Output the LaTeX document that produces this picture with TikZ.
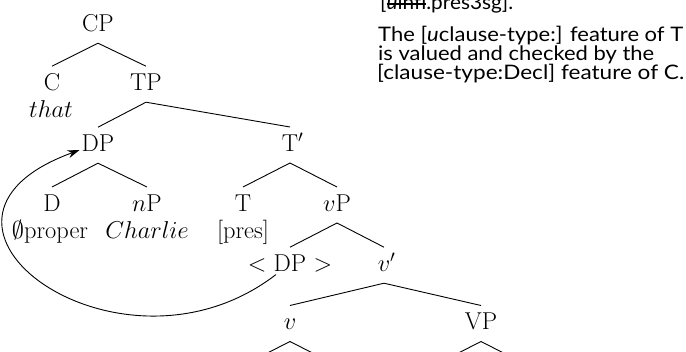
\documentclass[tikz,border=0pt]{standalone}
\usepackage{fix-cm}
\usepackage{fontspec}
\usepackage{graphicx}
\usetikzlibrary{calc,arrows.meta}
\newfontfamily\sansfnt{Lato}
\newcommand\treeedge[2]{\draw[br] ($(#1.base)+(0,11.5)$) -- ($(#2.base)+(0,-24.5)$);}
\newcommand\fitline[2]{\resizebox{#1pt}{\height}{#2}}
\newcommand\strk[1]{\setbox0\hbox{#1}\rlap{\rule[0.27em]{\wd0}{0.06em}}\box0}
\begin{document}
\begin{tikzpicture}[x=1pt,y=-1pt,
  lab/.style={font=\fontsize{24.4}{29}\selectfont, inner sep=2pt, anchor=base},
  br/.style={line width=0.9pt},
  txt/.style={font=\sansfnt\fontsize{20}{22}\selectfont, inner sep=0pt, anchor=base west}]
\useasboundingbox (0,0) rectangle (686,352);
\clip (0,0) rectangle (686,352);
% right-hand text
\node[txt] (l1) at (380,10) {\fitline{133}{[\strk{\textit{u}infl}.pres3sg].}};
\node[txt] (l2) at (378,42) {\fitline{305}{The [\textit{u}clause-type:] feature of T}};
\node[txt] (l3) at (378,61) {\fitline{276}{is valued and checked by the}};
\node[txt] (l4) at (377,80) {\fitline{307}{[clause-type:Decl] feature of C.}};
% tree labels
\node[lab] (cp) at (98,31.7) {CP};
\node[lab] (c) at (52,90.7) {C};
\node[lab] (that) at (51,118) {$that$};
\node[lab] (tp) at (146,90.7) {TP};
\node[lab] (dp) at (98,151.7) {DP};
\node[lab] (tb) at (290,151.5) {T\rlap{$'$}};
\node[lab] (d) at (52,211.5) {D};
\node[lab] (empty) at (50,238.5) {$\emptyset$proper};
\node[lab] (np) at (147,211.5) {$n$P};
\node[lab] (charlie) at (147,238.5) {$Charlie$};
\node[lab] (t) at (243,211.5) {T};
\node[lab] (pres) at (243,238.5) {[pres]};
\node[lab] (vp) at (337,211.5) {$v$P};
\node[lab] (ldp) at (290,271.7) {$<$ DP $>$};
\node[lab] (vb) at (384,271.7) {$v$\rlap{$'$}};
\node[lab] (v) at (290,330) {$v$};
\node[lab] (bvp) at (481,330) {VP};
\coordinate (va) at (243,365.5);
\coordinate (vb2) at (337,365.5);
\coordinate (vpa) at (434,365.5);
\coordinate (vpb) at (528,365.5);
% branches
\treeedge{cp}{c}
\treeedge{cp}{tp}
\treeedge{tp}{dp}
\treeedge{tp}{tb}
\treeedge{dp}{d}
\treeedge{dp}{np}
\treeedge{tb}{t}
\treeedge{tb}{vp}
\treeedge{vp}{ldp}
\treeedge{vp}{vb}
\treeedge{vb}{v}
\treeedge{vb}{bvp}
\draw[br] ($(v.base)+(0,11.5)$) -- (va);
\draw[br] ($(v.base)+(0,11.5)$) -- (vb2);
\draw[br] ($(bvp.base)+(0,11.5)$) -- (vpa);
\draw[br] ($(bvp.base)+(0,11.5)$) -- (vpb);
% movement arrow
\draw[br, -{Stealth[length=12pt,width=8pt]}] (ldp) .. controls (120,395) and (-118,222) .. (dp);
\end{tikzpicture}
\end{document}
